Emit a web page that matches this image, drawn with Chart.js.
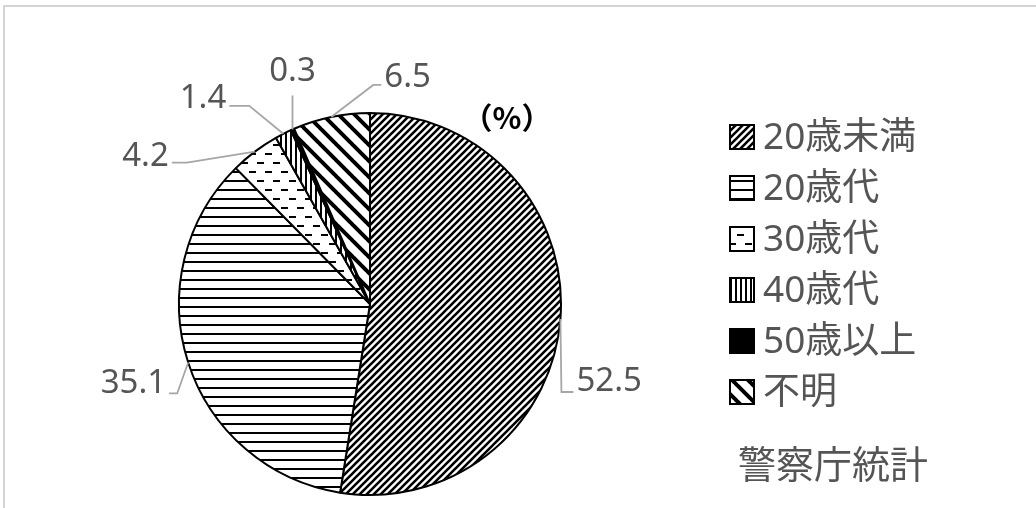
<!DOCTYPE html>
<html>
<head>
<meta charset="utf-8">
<script src="https://cdn.jsdelivr.net/npm/chart.js@4"></script>
<style>
  html, body { margin: 0; padding: 0; background: #fff; }
  canvas { display: block; }
</style>
</head>
<body>
<canvas id="pie-chart" width="1036" height="508"></canvas>
<script>
// data
const categories = ["20歳未満", "20歳代", "30歳代", "40歳代", "50歳以上", "不明"];
const shares = [52.5, 35.1, 4.2, 1.4, 0.3, 6.5];
const unitLabel = "（%）";
const sourceLabel = "警察庁統計";

// leader line layout per slice: elbow offset from arc edge, tail length
const leaders = [
  { dx: 1, dy: 73, tail: 12, lift: 10 },
  { dx: -11, dy: 31, tail: -8, lift: 10 },
  { dx: -68, dy: 11, tail: -15, lift: 6 },
  { dx: -34, dy: -28, tail: -20, lift: 7 },
  { dx: 0, dy: -34, tail: 0, lift: 12 },
  { dx: 42, dy: -32, tail: 8, lift: 7 }
];

const FONT = "'Noto Sans', 'Noto Sans CJK JP', sans-serif";
const GRAY = "#555555";

function makeTile(w, h, draw) {
  const c = document.createElement("canvas");
  c.width = w; c.height = h;
  const g = c.getContext("2d");
  g.fillStyle = "#fff";
  g.fillRect(0, 0, w, h);
  g.fillStyle = "#000";
  g.strokeStyle = "#000";
  draw(g, w, h);
  return document.getElementById("pie-chart").getContext("2d").createPattern(c, "repeat");
}

function diag(g, p, lw, up) {
  g.lineWidth = lw;
  g.beginPath();
  for (let k = -1; k <= 1; k++) {
    if (up) {
      g.moveTo(k * p - 1, p + 1);
      g.lineTo(k * p + p + 1, -1);
    } else {
      g.moveTo(k * p - 1, -1);
      g.lineTo(k * p + p + 1, p + 1);
    }
  }
  g.stroke();
}

const fills = [
  makeTile(7, 7, (g, w) => diag(g, w, 2.6, true)),
  makeTile(8, 9, (g, w, h) => g.fillRect(0, 0, w, 2)),
  makeTile(16, 18, (g) => { g.fillRect(1, 0, 7, 2); g.fillRect(9, 9, 7, 2); }),
  makeTile(5, 5, (g, w, h) => g.fillRect(0, 0, 2, h)),
  "#000",
  makeTile(16, 16, (g, w) => diag(g, w, 4, false))
];

const decor = {
  id: "decor",
  beforeDraw(chart) {
    const ctx = chart.ctx;
    ctx.save();
    ctx.fillStyle = "#fff";
    ctx.fillRect(0, 0, chart.width, chart.height);
    ctx.strokeStyle = "#d4d4d4";
    ctx.lineWidth = 2;
    ctx.beginPath();
    ctx.moveTo(4, chart.height);
    ctx.lineTo(4, 6);
    ctx.lineTo(chart.width, 6);
    ctx.stroke();
    ctx.restore();
  },
  afterDraw(chart) {
    const ctx = chart.ctx;
    const meta = chart.getDatasetMeta(0);
    ctx.save();
    // value labels with leader lines
    meta.data.forEach((arc, i) => {
      const mid = (arc.startAngle + arc.endAngle) / 2;
      const ax = arc.x + Math.cos(mid) * arc.outerRadius;
      const ay = arc.y + Math.sin(mid) * arc.outerRadius;
      const L = leaders[i];
      const ex = ax + L.dx, ey = ay + L.dy;
      ctx.strokeStyle = "#a6a6a6";
      ctx.lineWidth = 1.8;
      ctx.beginPath();
      ctx.moveTo(ax, ay);
      ctx.lineTo(ex, ey);
      ctx.lineTo(ex + L.tail, ey);
      ctx.stroke();
      ctx.fillStyle = GRAY;
      ctx.font = "33px " + FONT;
      ctx.textBaseline = "middle";
      const txt = shares[i].toFixed(1);
      if (L.tail > 0) {
        ctx.textAlign = "left";
        ctx.fillText(txt, ex + L.tail + 3, ey - L.lift);
      } else if (L.tail < 0) {
        ctx.textAlign = "right";
        ctx.fillText(txt, ex + L.tail - 3, ey - L.lift);
      } else {
        ctx.textAlign = "center";
        ctx.fillText(txt, ex, ey - L.lift - 12);
      }
    });
    // legend
    categories.forEach((name, i) => {
      const cy = 137 + i * 51;
      ctx.fillStyle = fills[i];
      ctx.fillRect(730, cy - 12, 24, 24);
      ctx.strokeStyle = "#000";
      ctx.lineWidth = 2;
      ctx.strokeRect(730, cy - 12, 24, 24);
      ctx.fillStyle = GRAY;
      ctx.font = "37px " + FONT;
      ctx.textAlign = "left";
      ctx.textBaseline = "middle";
      ctx.fillText(name, 763, cy + 1);
    });
    ctx.font = "bold 30px 'Noto Sans CJK JP', sans-serif";
    ctx.fillStyle = "#000";
    ctx.textAlign = "center";
    ctx.fillText(unitLabel, 507, 118);
    ctx.font = "38px 'Noto Sans CJK JP', sans-serif";
    ctx.fillStyle = GRAY;
    ctx.textAlign = "left";
    ctx.fillText(sourceLabel, 738, 464);
    ctx.restore();
  }
};

new Chart(document.getElementById("pie-chart"), {
  type: "pie",
  data: {
    labels: categories,
    datasets: [{
      data: shares,
      backgroundColor: fills,
      borderColor: "#000",
      borderWidth: 2
    }]
  },
  options: {
    responsive: false,
    animation: false,
    layout: { padding: { top: 112, bottom: 12, left: 178, right: 474 } },
    plugins: {
      legend: { display: false },
      tooltip: { enabled: false }
    }
  },
  plugins: [decor]
});
</script>
</body>
</html>
